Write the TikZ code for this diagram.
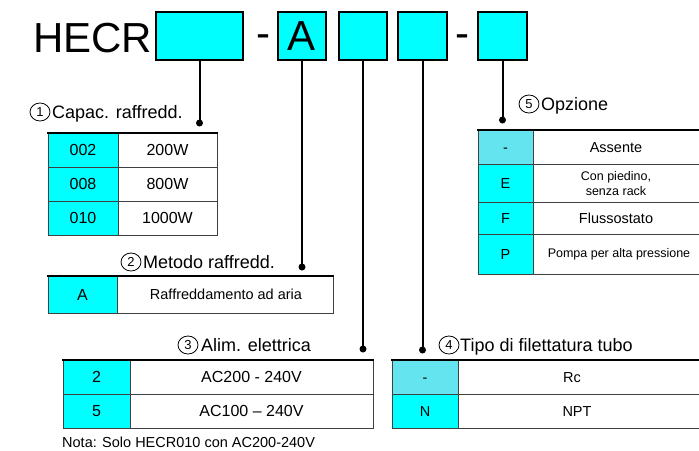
\documentclass[tikz,border=0pt]{standalone}
\usepackage{fontspec}
\setmainfont{Liberation Sans}
\usetikzlibrary{shapes.geometric}
\definecolor{cy}{RGB}{0,255,255}
\definecolor{lcy}{RGB}{100,228,238}
\tikzset{
  codebox/.style={draw=black, line width=2pt, fill=cy, inner sep=0pt, minimum height=48pt},
  bigtxt/.style={font=\fontsize{42}{48}\selectfont, inner sep=0pt},
  conn/.style={line width=2pt, black},
  gridline/.style={line width=0.9pt, black!75},
  topline/.style={line width=2.3pt, black},
  tt/.style={font=\fontsize{14.5}{17}\selectfont, inner sep=0pt, text height=10.4pt, text depth=0pt},
  tb/.style={font=\fontsize{16}{19}\selectfont, inner sep=0pt, text height=11.5pt, text depth=0pt},
  ts/.style={font=\fontsize{12.5}{15}\selectfont, inner sep=0pt, align=center},
  lbl/.style={font=\fontsize{18}{21}\selectfont, inner sep=0pt, anchor=west, text height=12.9pt, text depth=0pt},
  num/.style={draw, line width=0.8pt, ellipse, inner sep=0pt, minimum width=20pt, minimum height=18pt, font=\fontsize{13}{15}\selectfont},
}
\begin{document}
\begin{tikzpicture}[x=1pt,y=-1pt]
\useasboundingbox (0,0) rectangle (699,450);
% ---- code line ----
\node[bigtxt, anchor=base west] (hecr) at (33,52) {HECR};
\node[codebox, minimum width=87pt] (b1) at (199.5,36) {};
\node[bigtxt, anchor=base] (m1) at (263,47) {-};
\node[codebox, minimum width=48pt] (b2) at (302,36) {};
\node[bigtxt, anchor=base] (ta) at (302,50) {A};
\node[codebox, minimum width=48pt] (b3) at (363,36) {};
\node[codebox, minimum width=49pt] (b4) at (422.5,36) {};
\node[bigtxt, anchor=base] (m2) at (462,47) {-};
\node[codebox, minimum width=49pt] (b5) at (502.5,36) {};
% ---- connectors ----
\coordinate (d1) at (199.5,123);
\coordinate (d2) at (302,267);
\coordinate (d3) at (363,349);
\coordinate (d4) at (422.5,350);
\coordinate (d5) at (502.5,120);
\foreach \b/\d in {b1/d1,b2/d2,b3/d3,b4/d4,b5/d5}{
  \draw[conn] (\b.south) -- (\d);
  \fill (\d) circle (3.5pt);
}
% ---- table 1 ----
\fill[cy] (48,133) rectangle (118,235);
\draw[gridline] (48,133) rectangle (217,235) (118,133) -- (118,235)
  (48,167) -- (217,167) (48,201) -- (217,201);
\draw[topline] (47,133) -- (218,133);
\node[num] (n1) at (40,112) {1};
\node[lbl] (l1) at (52,112) {Capac. raffredd.};
\node[tb] (t1a) at (83,150) {002};
\node[tb] (t1b) at (167.5,150) {200W};
\node[tb] (t1c) at (83,184) {008};
\node[tb] (t1d) at (167.5,184) {800W};
\node[tb] (t1e) at (83,218) {010};
\node[tb] (t1f) at (167.5,218) {1000W};
% ---- table 2 ----
\fill[cy] (48,276) rectangle (117,313);
\draw[gridline] (48,276) rectangle (333,313) (117,276) -- (117,313);
\draw[topline] (47,276) -- (334,276);
\node[num] (n2) at (131,262) {2};
\node[lbl] (l2) at (143,262) {Metodo raffredd.};
\node[tb] (t2a) at (82.5,294.5) {A};
\node[tt] (t2b) at (226,294.5) {Raffreddamento ad aria};
% ---- table 3 ----
\fill[cy] (63,360) rectangle (130,428);
\draw[gridline] (63,360) rectangle (373,428) (130,360) -- (130,428)
  (63,394) -- (373,394);
\draw[topline] (62,360) -- (374,360);
\node[num] (n3) at (188,345) {3};
\node[lbl] (l3) at (201,345) {Alim. elettrica};
\node[tb] (t3a) at (96.5,377) {2};
\node[tb] (t3b) at (251.5,377) {AC200 - 240V};
\node[tb] (t3c) at (96.5,411) {5};
\node[tb] (t3d) at (251.5,411) {AC100 – 240V};
\node[tt, anchor=base west] (note) at (62,447) {Nota: Solo HECR010 con AC200-240V};
% ---- table 4 ----
\fill[lcy] (392,360) rectangle (458,394);
\fill[cy] (392,394) rectangle (458,428);
\draw[gridline] (699,428) -- (392,428) -- (392,360) (458,360) -- (458,428)
  (392,394) -- (699,394);
\draw[topline] (391,360) -- (699,360);
\node[num] (n4) at (449,345) {4};
\node[lbl] (l4) at (460,345) {Tipo di filettatura tubo};
\node[tt] (t4a) at (425,377) {-};
\node[tt] (t4b) at (572,377) {Rc};
\node[tt] (t4c) at (425,411) {N};
\node[tt] (t4d) at (577,411) {NPT};
% ---- table 5 ----
\fill[lcy] (478,130) rectangle (533,164);
\fill[cy] (478,164) rectangle (533,274);
\draw[gridline] (699,274) -- (478,274) -- (478,130) (533,130) -- (533,274)
  (478,164) -- (699,164) (478,202) -- (699,202) (478,234) -- (699,234);
\draw[topline] (477,130) -- (699,130);
\node[num] (n5) at (529,104) {5};
\node[lbl] (l5) at (541,104) {Opzione};
\node[tt] (t5a) at (505.5,147) {-};
\node[tt] (t5b) at (616,147) {Assente};
\node[tt] (t5c) at (505.5,183) {E};
\node[ts] (t5d) at (616,184) {Con piedino,\\senza rack};
\node[tt] (t5e) at (505.5,218) {F};
\node[tt] (t5f) at (616,218) {Flussostato};
\node[tt] (t5g) at (505.5,254) {P};
\node[ts] (t5h) at (619,254) {Pompa per alta pressione};
\end{tikzpicture}
\end{document}
